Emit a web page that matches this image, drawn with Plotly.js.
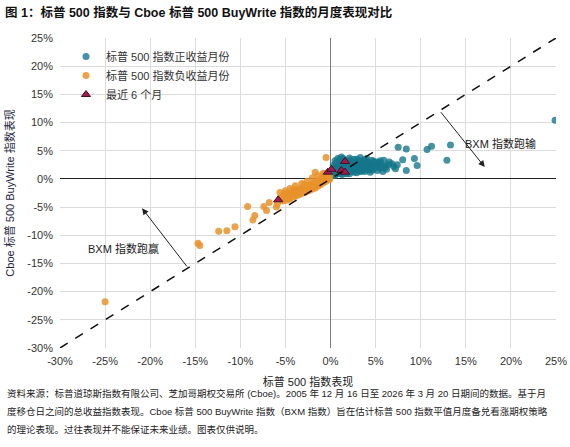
<!DOCTYPE html>
<html>
<head>
<meta charset="utf-8">
<script src="https://cdn.plot.ly/plotly-3.0.1.min.js"></script>
<style>
  html, body { margin: 0; padding: 0; background: #fff; }
  #chart { width: 570px; height: 447px; }
</style>
</head>
<body>
<div id="chart"></div>
<script>
var CHART = document.getElementById('chart');

// 标普 500 指数正收益月份 (S&P 500 %, BXM %)
var posSpx = [24.9, 13.3, 11.2, 10.7, 7.5, 8.4, 12.9, 9.3, 9.6, 8.4, 8.0, 7.4, 7.0, 7.2, 6.8, 6.5, 6.1, 5.9,
    0.2, 0.3, 0.4, 0.5, 0.6, 0.7, 0.8, 0.9, 1.0, 1.1, 1.2, 1.3, 1.4, 1.5, 1.6, 1.7, 1.8, 1.9, 2.0, 2.1, 2.2, 2.3,
    2.4, 2.5, 2.6, 2.7, 2.8, 2.9, 3.0, 3.1, 3.2, 3.3, 3.4, 3.5, 3.6, 3.7, 3.8, 3.9, 4.0, 4.1, 4.2, 4.3, 4.4, 4.5,
    4.6, 4.7, 4.8, 4.9, 5.0, 5.2, 5.3, 5.5, 5.6, 5.8, 6.0, 6.2,
    0.3, 0.5, 0.6, 0.8, 0.9, 1.0, 1.1, 1.2, 1.3, 1.4, 1.5, 1.6, 1.7, 1.8, 1.9, 2.0, 2.1, 2.2, 2.3, 2.4, 2.5, 2.6,
    2.7, 2.8, 2.9, 3.0, 3.1, 3.2, 3.3, 3.4, 3.5, 3.6, 3.7, 3.8, 3.9, 4.0, 4.1, 4.2, 4.3, 4.4, 4.6, 4.8, 5.1, 5.4, 5.7,
    0.15, 0.4, 0.7, 1.0, 1.3, 1.6, 2.0, 2.3, 2.6, 2.9, 3.2, 3.5, 3.8, 4.1, 4.4, 4.7, 5.0, 5.5, 6.4];
var posBxm = [10.4, 6.0, 5.8, 5.2, 5.6, 5.3, 3.3, 3.6, 2.4, 1.5, 3.4, 2.5, 2.2, 1.8, 2.7, 3.0, 2.1, 3.3,
    1.1, 2.4, 0.8, 3.2, 1.6, 2.0, 3.6, 1.2, 2.7, 0.9, 3.9, 1.9, 2.5, 1.4, 3.3, 2.2, 0.9, 2.9, 1.7, 3.7, 2.4, 1.3,
    3.0, 2.0, 3.5, 1.6, 2.7, 1.1, 3.2, 2.3, 1.8, 3.8, 2.6, 1.4, 2.9, 2.1, 3.4, 1.7, 2.5, 3.1, 1.9, 2.8, 1.2, 2.3,
    3.3, 1.6, 2.6, 2.0, 3.0, 1.5, 2.4, 1.9, 2.8, 1.3, 2.2, 1.7,
    1.7, 0.6, 2.8, 1.4, 2.2, 3.4, 1.8, 2.9, 0.8, 3.6, 2.1, 1.0, 2.8, 3.1, 1.5, 2.5, 0.9, 3.3, 2.0, 1.6, 2.8, 1.2,
    3.0, 2.2, 3.5, 1.5, 2.8, 3.1, 1.3, 2.0, 3.2, 1.9, 2.6, 1.3, 2.4, 3.6, 2.0, 2.9, 1.6, 2.6, 1.8, 3.1, 2.3, 2.9, 2.0,
    0.5, 2.0, 1.0, 1.5, 2.4, 1.9, 3.0, 2.6, 2.3, 2.5, 2.3, 2.4, 2.2, 2.4, 2.1, 2.4, 2.2, 3.2, 2.5];

// 标普 500 指数负收益月份
var negSpx = [-25.0, -14.7, -14.5, -12.4, -11.5, -10.6, -9.2, -8.6, -8.4, -7.4, -7.1, -6.8, -6.0, -5.9, -5.6,
    -5.5, -5.3, -5.2, -5.0, -4.9, -4.8, -4.6, -4.5, -4.4, -4.3, -4.1, -4.0, -3.9, -3.8, -3.7, -3.6, -3.5, -3.4,
    -3.3, -3.2, -3.1, -3.0, -2.9, -2.8, -2.7, -2.6, -2.5, -2.4, -2.3, -2.2, -2.1, -2.0, -1.9, -1.8, -1.7, -1.6,
    -1.5, -1.4, -1.3, -1.2, -1.1, -1.0, -0.9, -0.8, -0.7, -0.6, -0.5, -0.4, -0.3, -0.2, -0.1,
    -0.5, -0.2, -1.7, -0.6, -0.1, -2.6, -3.5, -4.2, -4.7, -5.1, -1.0, -1.9,
    -4.5, -3.9, -3.2, -2.6, -2.0, -1.4, -0.8, -5.0, -4.1, -2.9];
var negBxm = [-21.8, -11.4, -11.8, -9.3, -9.2, -8.5, -4.9, -7.3, -6.5, -4.9, -5.6, -4.2, -5.0, -4.4, -2.4,
    -3.4, -3.9, -2.9, -3.3, -3.8, -2.6, -3.1, -3.6, -2.4, -2.9, -3.2, -2.2, -2.7, -3.0, -2.0, -2.5, -2.8, -1.8,
    -2.3, -2.6, -1.6, -2.1, -2.4, -1.4, -1.9, -2.2, -1.2, -1.7, -2.0, -1.0, -1.5, -1.8, -0.8, -1.3, -1.6, -0.5,
    -1.0, -1.3, -0.3, -0.8, -1.0, 0.1, -0.5, -0.7, 0.3, -0.2, -0.4, 0.6, 0.1, -0.1, 0.4,
    3.8, 1.2, 1.2, 0.9, -0.05, -1.5, -2.1, -2.6, -3.5, -2.5, -0.6, -1.1,
    -1.7, -1.2, -0.8, -0.4, 0.2, 0.6, 1.0, -2.1, -1.9, -1.0];

// 最近 6 个月
var recentSpx = [1.6, 1.2, 1.6, -0.3, 0.1, -5.8];
var recentBxm = [3.1, 1.5, 1.2, 1.2, 1.7, -3.7];

var axisRange = [-30, 25];
var tickVals = [-30, -25, -20, -15, -10, -5, 0, 5, 10, 15, 20, 25];
var tickText = ['-30%', '-25%', '-20%', '-15%', '-10%', '-5%', '0%', '5%', '10%', '15%', '20%', '25%'];

var FONT = 'Liberation Sans, Arial, Noto Sans CJK SC, sans-serif';
var TEAL = '#15778b';
var ORANGE = '#e8922c';

var positive = {
    x: posSpx, y: posBxm,
    type: 'scatter', mode: 'markers',
    name: '标普 500 指数正收益月份',
    marker: { color: TEAL, size: 7, opacity: 0.8 }
};

var negative = {
    x: negSpx, y: negBxm,
    type: 'scatter', mode: 'markers',
    name: '标普 500 指数负收益月份',
    marker: { color: ORANGE, size: 7, opacity: 0.85 }
};

var recent = {
    x: recentSpx, y: recentBxm,
    type: 'scatter', mode: 'markers',
    name: '最近 6 个月',
    marker: { symbol: 'triangle-up', color: '#a11a4f', size: 8, line: { color: '#4a0d24', width: 1 } }
};

var L = 60, R = 14, T = 38, B = 99;
var plotW = 570 - L - R, plotH = 447 - T - B;
function px(xp) { return (xp - L) / plotW; }      // container x -> paper x
function py(yp) { return (447 - B - yp) / plotH; } // container y -> paper y

var noteLines = [
    '资料来源：标普道琼斯指数有限公司、芝加哥期权交易所 (Cboe)。2005 年 12 月 16 日至 2026 年 3 月 20 日期间的数据。基于月',
    '度移仓日之间的总收益指数表现。Cboe 标普 500 BuyWrite 指数（BXM 指数）旨在估计标普 500 指数平值月度备兑看涨期权策略',
    '的理论表现。过往表现并不能保证未来业绩。图表仅供说明。'
];
var noteY = [393, 411, 429];

var annotations = [
    {
        x: 17.1, y: 2.1, ax: 12.1, ay: 12.1, axref: 'x', ayref: 'y', xref: 'x', yref: 'y',
        showarrow: true, arrowhead: 2, arrowsize: 1.3, arrowwidth: 1, arrowcolor: '#222', text: ''
    },
    {
        x: -20.9, y: -5.2, ax: -15.8, ay: -15.8, axref: 'x', ayref: 'y', xref: 'x', yref: 'y',
        showarrow: true, arrowhead: 2, arrowsize: 1.3, arrowwidth: 1, arrowcolor: '#222', text: ''
    },
    { x: 18.9, y: 6.2, xref: 'x', yref: 'y', text: 'BXM 指数跑输', showarrow: false, font: { size: 11, color: '#222' } },
    { x: -23.0, y: -12.4, xref: 'x', yref: 'y', text: 'BXM 指数跑赢', showarrow: false, font: { size: 11, color: '#222' } }
];
noteLines.forEach(function (t, i) {
    annotations.push({
        x: px(5), y: py(noteY[i]), xref: 'paper', yref: 'paper', xanchor: 'left', yanchor: 'middle',
        text: t, showarrow: false, font: { size: 9.5, color: '#222' }
    });
});

var layout = {
    width: 570, height: 447,
    margin: { l: L, r: R, t: T, b: B },
    paper_bgcolor: '#fff', plot_bgcolor: '#fff',
    font: { family: FONT, size: 11, color: '#333' },
    title: {
        text: '<b>图 1：标普 500 指数与 Cboe 标普 500 BuyWrite 指数的月度表现对比</b>',
        x: 5 / 570, xanchor: 'left', xref: 'container',
        y: 1 - 13 / 447, yanchor: 'middle', yref: 'container',
        font: { size: 12.5, color: '#111' }
    },
    xaxis: {
        range: axisRange, tickmode: 'array', tickvals: tickVals, ticktext: tickText,
        showgrid: true, gridcolor: '#dcdcdc', gridwidth: 1,
        zeroline: true, zerolinecolor: '#7a7a7a', zerolinewidth: 1.5,
        showline: false, ticks: '', ticklabelstandoff: 5,
        tickfont: { size: 11, color: '#333' },
        title: { text: '标普 500 指数表现', font: { size: 11, color: '#222' }, standoff: 12 }
    },
    yaxis: {
        range: axisRange, tickmode: 'array', tickvals: tickVals, ticktext: tickText,
        showgrid: true, gridcolor: '#dcdcdc', gridwidth: 1,
        zeroline: true, zerolinecolor: '#222', zerolinewidth: 1,
        showline: false, ticks: '', ticklabelstandoff: 6,
        tickfont: { size: 11, color: '#333' },
        title: { text: 'Cboe 标普 500 BuyWrite 指数表现', font: { size: 11, color: '#1c2541' }, standoff: 10 }
    },
    shapes: [{
        type: 'line', xref: 'x', yref: 'y',
        x0: axisRange[0], y0: axisRange[0], x1: axisRange[1], y1: axisRange[1],
        line: { color: '#111', width: 1.5, dash: 'dash' }
    }],
    legend: {
        x: px(66), y: py(42), xanchor: 'left', yanchor: 'top',
        bgcolor: 'rgba(255,255,255,0)', font: { size: 11, color: '#333' },
        itemwidth: 30, tracegroupgap: 0
    },
    annotations: annotations,
    showlegend: true
};

Plotly.newPlot(CHART, [positive, negative, recent], layout, { displayModeBar: false, staticPlot: true });
</script>
</body>
</html>
